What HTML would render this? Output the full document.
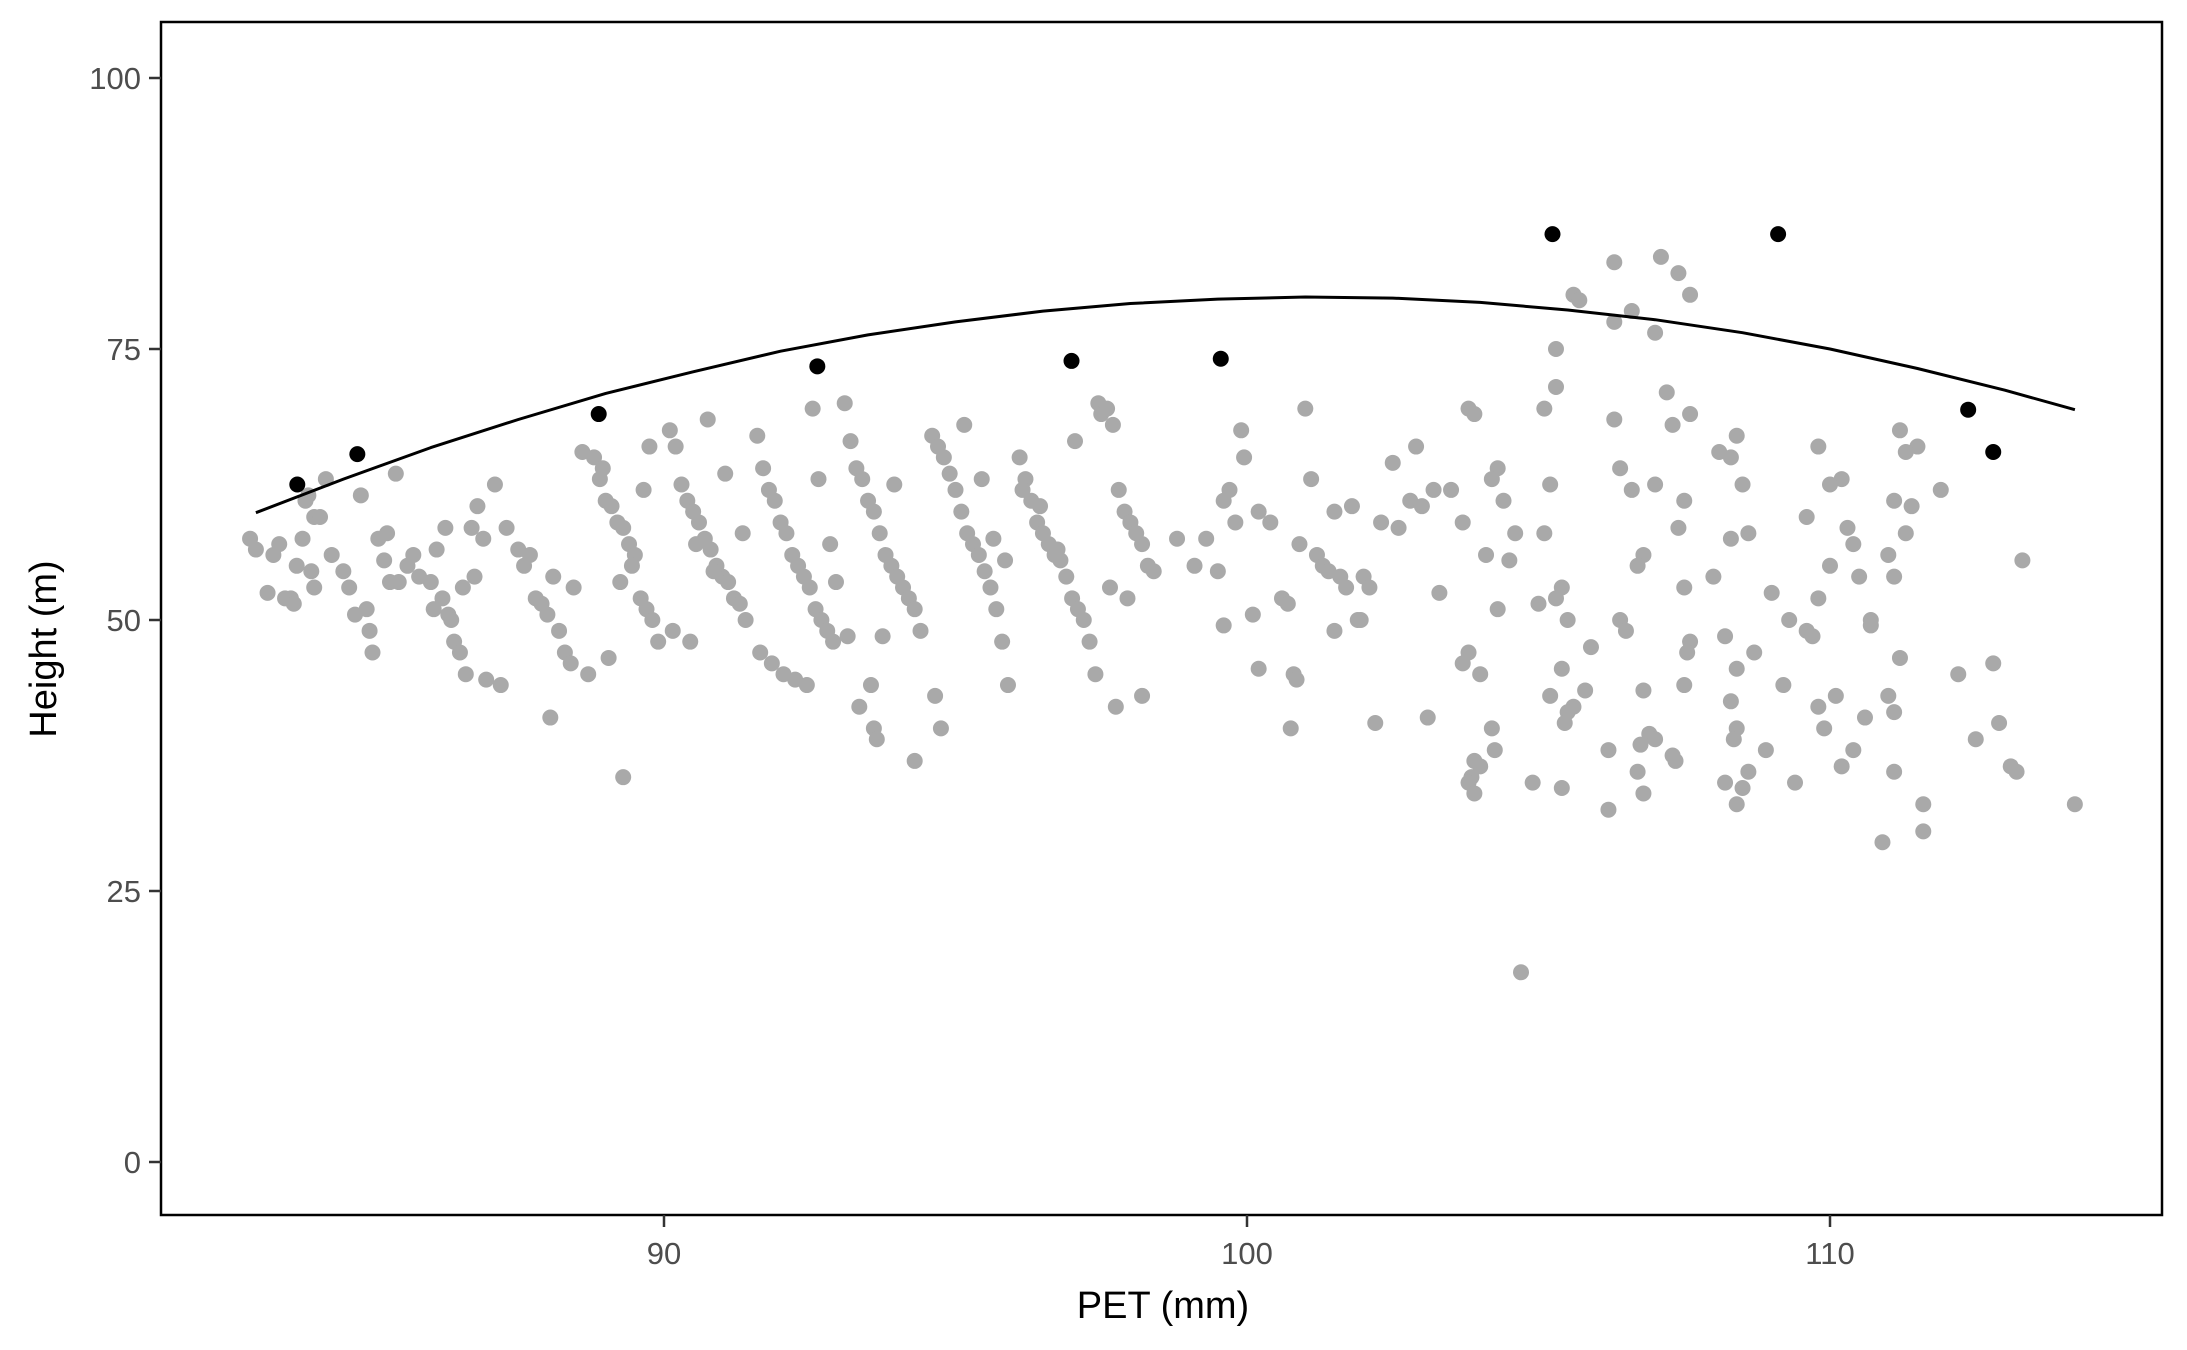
<!DOCTYPE html>
<html><head><meta charset="utf-8"><style>
html,body{margin:0;padding:0;background:#fff;}
svg{display:block;font-family:"Liberation Sans",sans-serif;}
</style></head><body>
<svg id="chart" width="2187" height="1350" viewBox="0 0 2187 1350" xmlns="http://www.w3.org/2000/svg">
<rect x="0" y="0" width="2187" height="1350" fill="#fff"/>
<g id="grayPts"></g>
<path id="fitLine" fill="none" stroke="#000" stroke-width="3" stroke-linejoin="round"/>
<g id="blackPts"></g>
<rect x="161" y="22" width="2001" height="1193" fill="none" stroke="#000" stroke-width="2.5"/>
<g id="xAxis"></g>
<g id="yAxis"></g>
<text x="1163" y="1318" font-size="38" text-anchor="middle" fill="#000">PET (mm)</text>
<text x="0" y="0" font-size="38" text-anchor="middle" fill="#000" transform="translate(56,649) rotate(-90)">Height (m)</text>
</svg>
<script>
const xTicks=[90,100,110];
const yTicks=[0,25,50,75,100];
const maxX=[83.71,84.74,88.88,92.63,96.99,99.55,105.24,109.11,112.37,112.80];
const maxY=[62.5,65.3,69.0,73.4,73.9,74.1,85.6,85.6,69.4,65.5];
const fitX=[83,84.5,86,87.5,89,90.5,92,93.5,95,96.5,98,99.5,101,102.5,104,105.5,107,108.5,110,111.5,113,114.2];
const fitY=[59.9,63.0,65.9,68.5,70.9,72.9,74.8,76.3,77.5,78.5,79.2,79.6,79.8,79.7,79.3,78.6,77.7,76.5,75.0,73.2,71.2,69.4];
const obsX=[
82.9,83.0,83.3,83.5,83.6,83.8,83.9,83.4,83.7,84.0,83.2,83.65,84.0,83.95,83.85,84.2,
84.1,84.3,84.5,84.6,84.9,84.7,84.95,85.0,85.2,85.3,85.4,84.8,85.1,85.45,85.25,
85.6,85.8,86.0,86.1,86.2,86.3,86.4,86.5,86.6,86.7,86.8,86.9,85.7,86.05,86.35,86.55,86.75,86.95,86.25,
87.1,87.3,87.5,87.6,87.8,87.9,88.0,88.1,88.2,88.3,88.4,87.2,88.05,87.7,88.45,
88.6,88.8,88.9,89.0,89.1,89.2,89.3,89.4,89.5,89.6,89.7,89.8,89.9,88.7,89.05,89.25,89.45,89.65,89.3,89.75,88.95,
90.1,90.2,90.3,90.4,90.5,90.6,90.7,90.8,90.9,91.0,91.1,91.2,91.3,91.4,90.15,90.45,90.75,91.05,91.35,90.55,90.85,
91.6,91.7,91.8,91.9,92.0,92.1,92.2,92.3,92.4,92.5,92.6,92.7,92.8,92.9,91.65,91.85,92.05,92.25,92.45,92.55,92.65,92.85,92.95,
93.1,93.2,93.3,93.4,93.5,93.6,93.7,93.8,93.9,94.0,94.1,94.2,94.3,94.4,93.15,93.55,93.6,93.65,93.35,94.3,93.75,93.95,
94.6,94.7,94.8,94.9,95.0,95.1,95.2,95.3,95.4,95.5,95.6,95.7,95.8,95.9,94.65,94.75,95.15,95.45,95.65,95.85,
96.1,96.2,96.3,96.4,96.5,96.6,96.7,96.8,96.9,97.0,97.1,97.2,97.3,97.4,97.45,97.5,96.15,96.45,96.75,97.05,
97.6,97.7,97.8,97.9,98.0,98.1,98.2,98.3,98.4,97.65,97.95,97.75,98.2,98.8,
99.9,99.95,99.7,99.6,100.2,99.8,99.3,99.1,99.5,100.1,99.6,100.2,
101.0,101.1,101.5,100.4,100.9,101.2,101.3,101.4,101.6,101.7,100.6,100.7,101.9,101.5,100.8,100.85,100.75,101.8,
102.5,103.2,102.8,103.0,102.3,102.6,102.0,102.1,103.3,101.95,102.2,103.1,102.9,
103.8,103.9,104.3,104.2,103.5,104.4,103.7,104.6,104.1,104.5,104.3,103.8,103.7,104.0,103.9,103.85,103.8,103.9,104.2,104.25,104.0,104.9,104.7,
105.6,105.7,105.3,105.3,105.1,106.3,105.2,105.1,105.4,105.3,105.0,105.5,105.9,105.4,105.8,105.2,105.6,105.5,105.45,106.2,105.4,106.2,
106.3,107.1,107.4,107.6,106.6,106.3,107.0,107.2,107.6,107.3,106.4,107.0,106.6,107.5,107.4,106.8,106.7,107.5,106.4,106.5,107.6,107.55,107.5,106.8,106.9,107.0,106.75,107.3,107.35,106.7,106.8,
108.4,108.1,108.3,108.5,108.6,108.3,108.0,109.0,108.2,108.7,108.4,108.3,108.4,108.35,108.9,108.6,108.2,108.4,108.5,109.3,109.2,
109.8,110.2,110.0,109.6,110.3,110.4,110.0,110.5,109.8,110.7,109.6,109.7,110.1,109.8,110.6,109.9,110.4,110.2,109.4,110.9,110.7,
111.2,111.5,111.3,111.9,111.1,111.4,111.3,111.0,111.1,111.2,111.0,111.1,111.1,111.6,111.6,112.2,
113.3,112.8,112.9,112.5,113.1,113.2,114.2];
const obsY=[
57.5,56.5,56,52,52,57.5,61.5,57,55,59.5,52.5,51.5,53,54.5,61,63,
59.5,56,54.5,53,51,50.5,49,47,55.5,53.5,63.5,61.5,57.5,53.5,58,
55,54,53.5,56.5,52,50.5,48,47,45,58.5,60.5,57.5,56,51,50,53,54,44.5,58.5,
62.5,58.5,56.5,55,52,51.5,50.5,54,49,47,46,44,41,56,53,
65.5,65,63,61,60.5,59,58.5,57,56,52,51,50,48,45,46.5,53.5,55,62,35.5,66,64,
67.5,66,62.5,61,60,59,57.5,56.5,55,54,53.5,52,51.5,50,49,48,68.5,63.5,58,57,54.5,
67,64,62,61,59,58,56,55,54,53,51,50,49,48,47,46,45,44.5,44,69.5,63,57,53.5,
70,66.5,64,63,61,60,58,56,55,54,53,52,51,49,48.5,44,40,39,42,37,48.5,62.5,
67,66,65,63.5,62,60,58,57,56,54.5,53,51,48,44,43,40,68,63,57.5,55.5,
65,63,61,59,58,57,56,55.5,54,52,51,50,48,45,70,69,62,60.5,56.5,66.5,
69.5,68,62,60,59,58,57,55,54.5,53,52,42,43,57.5,
67.5,65,62,61,60,59,57.5,55,54.5,50.5,49.5,45.5,
69.5,63,60,59,57,56,55,54.5,54,53,52,51.5,50,49,45,44.5,40,60.5,
64.5,62,61,60.5,59,58.5,54,53,52.5,50,40.5,41,66,
69.5,69,64,63,62,61,59,58,56,55.5,51,47,46,45,37,35.5,35,34,40,38,36.5,35,17.5,
80,79.5,75,71.5,69.5,68.5,62.5,58,53,52,51.5,50,47.5,45.5,43.5,43,42,41.5,40.5,38,34.5,32.5,
83,83.5,82,80,78.5,77.5,76.5,71,69,68,64,62.5,62,61,58.5,56,55,53,50,49,48,47,44,43.5,39.5,39,38.5,37.5,37,36,34,
67,65.5,65,62.5,58,57.5,54,52.5,48.5,47,45.5,42.5,40,39,38,36,35,33,34.5,50,44,
66,63,62.5,59.5,58.5,57,55,54,52,50,49,48.5,43,42,41,40,38,36.5,35,29.5,49.5,
67.5,66,65.5,62,61,60.5,58,56,54,46.5,43,41.5,36,33,30.5,45,
55.5,46,40.5,39,36.5,36,33];

const NS='http://www.w3.org/2000/svg';
function xs(v){return 664+(v-90)*58.3;}
function ys(v){return 1162-v*10.84;}

const g=document.getElementById('grayPts');
for(let i=0;i<obsX.length;i++){
  const c=document.createElementNS(NS,'circle');
  c.setAttribute('cx',xs(obsX[i]));c.setAttribute('cy',ys(obsY[i]));c.setAttribute('r',8);
  c.setAttribute('fill','#a9a9a9');
  
  
  g.appendChild(c);
}
let d='';
for(let i=0;i<fitX.length;i++){d+=(i?'L':'M')+xs(fitX[i]).toFixed(1)+','+ys(fitY[i]).toFixed(1);}
document.getElementById('fitLine').setAttribute('d',d);
const b=document.getElementById('blackPts');
for(let i=0;i<maxX.length;i++){
  const c=document.createElementNS(NS,'circle');
  c.setAttribute('cx',xs(maxX[i]));c.setAttribute('cy',ys(maxY[i]));c.setAttribute('r',8);
  c.setAttribute('fill','#000');
  
  
  b.appendChild(c);
}
const xa=document.getElementById('xAxis');
xTicks.forEach(t=>{
  const l=document.createElementNS(NS,'line');
  l.setAttribute('x1',xs(t));l.setAttribute('x2',xs(t));l.setAttribute('y1',1215);l.setAttribute('y2',1227);
  l.setAttribute('stroke','#333');l.setAttribute('stroke-width',2.5);
  
  
  xa.appendChild(l);
  const tx=document.createElementNS(NS,'text');
  tx.setAttribute('x',xs(t));tx.setAttribute('y',1264);tx.setAttribute('text-anchor','middle');
  tx.setAttribute('font-size',31);tx.setAttribute('fill','#4d4d4d');tx.textContent=t;
  
  
  xa.appendChild(tx);
});
const ya=document.getElementById('yAxis');
yTicks.forEach(t=>{
  const l=document.createElementNS(NS,'line');
  l.setAttribute('x1',149);l.setAttribute('x2',161);l.setAttribute('y1',ys(t));l.setAttribute('y2',ys(t));
  l.setAttribute('stroke','#333');l.setAttribute('stroke-width',2.5);
  
  
  ya.appendChild(l);
  const tx=document.createElementNS(NS,'text');
  tx.setAttribute('x',141);tx.setAttribute('y',ys(t)+11);tx.setAttribute('text-anchor','end');
  tx.setAttribute('font-size',31);tx.setAttribute('fill','#4d4d4d');tx.textContent=t;
  
  
  ya.appendChild(tx);
});
</script>
</body></html>
